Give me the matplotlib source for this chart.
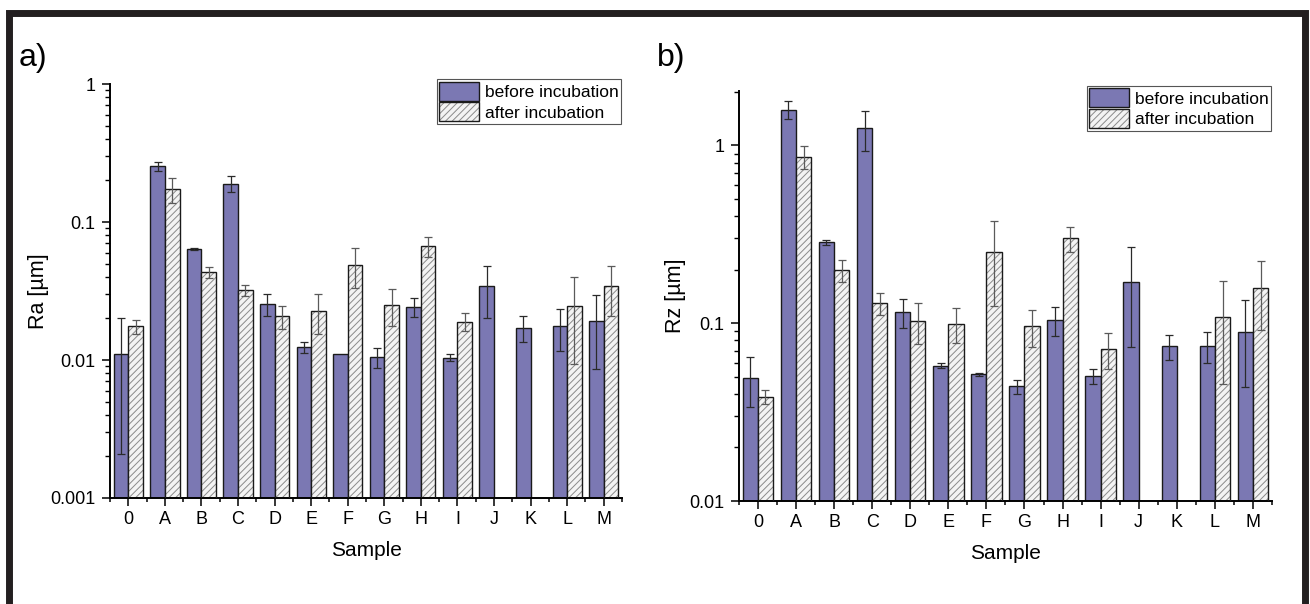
import matplotlib
matplotlib.use('Agg')
import matplotlib.pyplot as plt
import matplotlib.ticker as ticker
from matplotlib.patches import Patch, Rectangle
import numpy as np

plt.rcParams['font.family'] = ['Liberation Sans', 'DejaVu Sans']
plt.rcParams['hatch.linewidth'] = 0.7

nan = np.nan
samples = ['0', 'A', 'B', 'C', 'D', 'E', 'F', 'G', 'H', 'I', 'J', 'K', 'L', 'M']

# a) Ra [um]
ra_before = [0.0111, 0.255, 0.064, 0.190, 0.0255, 0.0124, 0.0111, 0.0105, 0.0242, 0.0104, 0.0342, 0.0171, 0.0175, 0.0191]
ra_before_err = [0.009, 0.019, 0.001, 0.025, 0.0046, 0.0012, nan, 0.0017, 0.0038, 0.0006, 0.014, 0.0037, 0.0059, 0.0105]
ra_after = [0.0175, 0.173, 0.0434, 0.0322, 0.0208, 0.0228, 0.0488, 0.0251, 0.067, 0.0190, nan, nan, 0.0245, 0.0346]
ra_after_err = [0.002, 0.036, 0.004, 0.003, 0.004, 0.0073, 0.0157, 0.0075, 0.0113, 0.0028, nan, nan, 0.0152, 0.0136]

# b) Rz [um]
rz_before = [0.0494, 1.59, 0.285, 1.25, 0.1156, 0.0577, 0.0518, 0.0442, 0.1045, 0.0504, 0.1705, 0.0742, 0.0748, 0.0898]
rz_before_err = [0.0155, 0.19, 0.01, 0.32, 0.022, 0.002, 0.001, 0.004, 0.0195, 0.0047, 0.097, 0.012, 0.015, 0.046]
rz_after = [0.0386, 0.863, 0.199, 0.1294, 0.1033, 0.099, 0.2504, 0.0963, 0.300, 0.0719, nan, nan, 0.1088, 0.157]
rz_after_err = [0.0034, 0.13, 0.028, 0.018, 0.027, 0.022, 0.126, 0.023, 0.049, 0.0165, nan, nan, 0.0635, 0.066]

purple = '#7b78b3'
hatch_bg = '#f3f3f3'
hatch_col = '#8a8a8a'
w = 0.4


def draw_panel(ax, before, before_err, after, after_err, ylim, yticks, ylabel, ylabelpad):
    x = np.arange(len(samples))
    ax.set_yscale('log')
    ax.bar(x - w / 2, before, w, color=purple, edgecolor='#1a1a1a', linewidth=1.0, zorder=2)
    # hatched fill first, then black outline on top
    ax.bar(x + w / 2, after, w, color=hatch_bg, edgecolor=hatch_col, hatch='/////', linewidth=0, zorder=2)
    ax.bar(x + w / 2, after, w, fill=False, edgecolor='#1a1a1a', linewidth=1.0, zorder=3)
    ax.errorbar(x - w / 2, before, yerr=before_err, fmt='none', ecolor='#2a2a2a',
                elinewidth=0.9, capsize=3.2, capthick=0.9, zorder=4)
    ax.errorbar(x + w / 2, after, yerr=after_err, fmt='none', ecolor='#5a5a5a',
                elinewidth=0.9, capsize=3.2, capthick=0.9, zorder=4)

    ax.set_xlim(-0.5, len(samples) - 0.5)
    ax.set_ylim(*ylim)
    ax.set_xticks(x)
    ax.set_xticklabels(samples)
    ax.xaxis.set_minor_locator(ticker.FixedLocator(np.arange(-0.5, len(samples), 1)))
    ax.set_yticks(yticks)
    ax.yaxis.set_major_formatter(ticker.FuncFormatter(lambda v, p: '%g' % v))
    ax.yaxis.set_minor_locator(ticker.LogLocator(base=10, subs=np.arange(2, 10)))
    ax.yaxis.set_minor_formatter(ticker.NullFormatter())

    for s in ['top', 'right']:
        ax.spines[s].set_visible(False)
    for s in ['left', 'bottom']:
        ax.spines[s].set_linewidth(1.4)
    ax.tick_params(axis='x', which='major', direction='out', length=6, width=1.1, labelsize=13, pad=3.5)
    ax.tick_params(axis='x', which='minor', direction='out', length=3, width=1.1)
    ax.tick_params(axis='y', which='major', direction='out', length=5.5, width=1.1, labelsize=13, pad=5)
    ax.tick_params(axis='y', which='minor', direction='out', length=3.5, width=1.0)

    ax.set_xlabel('Sample', fontsize=15, labelpad=9)
    ax.set_ylabel(ylabel, fontsize=15.5, labelpad=ylabelpad)

    h_before = Patch(facecolor=purple, edgecolor='#1a1a1a', linewidth=1.0)
    h_after = (Patch(facecolor=hatch_bg, edgecolor=hatch_col, hatch='/////', linewidth=0),
               Patch(fill=False, edgecolor='#1a1a1a', linewidth=1.0))
    leg = ax.legend([h_before, h_after], ['before incubation', 'after incubation'],
                    loc='upper right', bbox_to_anchor=(0.998, 1.012), fontsize=12.5,
                    handlelength=2.3, handleheight=1.3, handletextpad=0.3,
                    labelspacing=0.1, borderpad=0.15, borderaxespad=0,
                    fancybox=False, framealpha=1)
    leg.get_frame().set_edgecolor('#555555')
    leg.get_frame().set_linewidth(0.8)


fig = plt.figure(figsize=(13.1, 6.04), dpi=100)
ax_a = fig.add_axes([0.0840, 0.1755, 0.3908, 0.6854])
ax_b = fig.add_axes([0.5640, 0.1705, 0.4070, 0.6793])

draw_panel(ax_a, ra_before, ra_before_err, ra_after, ra_after_err,
           (0.001, 1), [0.001, 0.01, 0.1, 1], 'Ra [µm]', 1.0)
draw_panel(ax_b, rz_before, rz_before_err, rz_after, rz_after_err,
           (0.01, 2.03), [0.01, 0.1, 1], 'Rz [µm]', 2.5)

fig.text(0.0145, 0.8907, 'a)', fontsize=23, va='baseline')
fig.text(0.5015, 0.8907, 'b)', fontsize=23, va='baseline')

# thick black frame around the figure (bottom edge runs off the image)
fig.patches.append(Rectangle((9 / 1310, -0.1), (1305 - 9) / 1310, (604 - 12.5) / 604 + 0.1,
                             transform=fig.transFigure, fill=False,
                             edgecolor='#231f20', linewidth=5))

fig.savefig('out.png', dpi=100)
